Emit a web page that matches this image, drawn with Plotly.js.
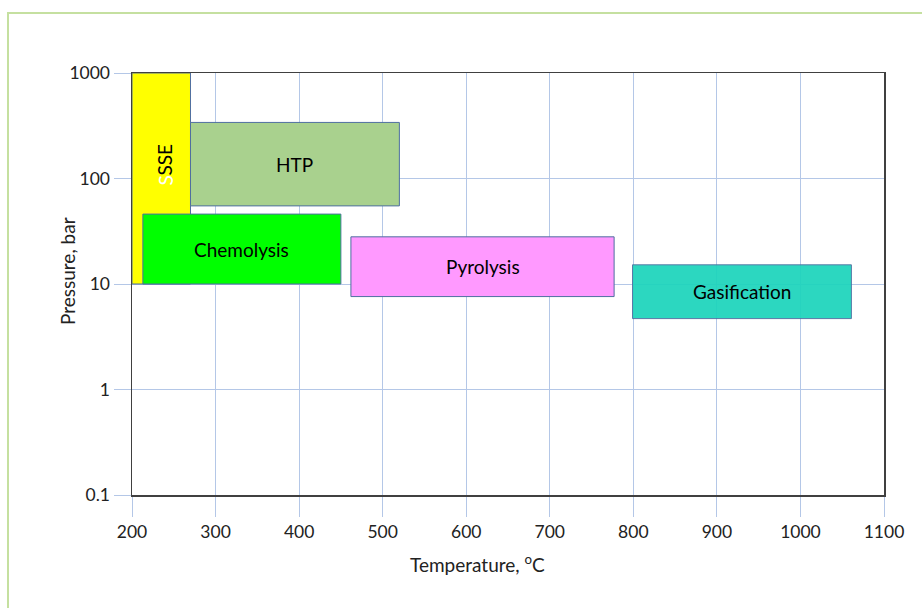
<!DOCTYPE html>
<html>
<head>
<meta charset="utf-8">
<script src="https://cdn.plot.ly/plotly-3.0.1.min.js"></script>
<style>
html,body{margin:0;padding:0;background:#fff;}
#chart{width:922px;height:608px;}
</style>
</head>
<body>
<div id="chart"></div>
<script>
// Process regions: temperature range (°C) and pressure range (bar)
const processes = ["SSE", "HTP", "Chemolysis", "Pyrolysis", "Gasification"];
const tempMin   = [200, 270, 213, 462, 799];
const tempMax   = [270, 520, 450, 777, 1061];
const presMin   = [10, 55, 10, 7.6, 4.7];
const presMax   = [1000, 340, 46, 28, 15.2];
const fillColors = ["#ffff00", "#a9d18e", "#00ff00", "#ff99ff", "#1dd4bc"];

// Axis ticks
const xTicks = [200, 300, 400, 500, 600, 700, 800, 900, 1000, 1100];
const yTicks = [0.1, 1, 10, 100, 1000];
const yTickText = ["0.1", "1", "10", "100", "1000"];

// Axis titles
const xTitle = "Temperature, <sup>o</sup>C";
const yTitle = "Pressure, bar";

// SSE label position (not centred in its box in the original)
const sseLabelT = 239;
const sseLabelP = 150;

const FONT = "Lato, 'Open Sans', sans-serif";
const outline = "#4f6fa0";

const traces = processes.map((name, i) => ({
  type: "scatter",
  mode: "lines",
  x: [tempMin[i], tempMax[i], tempMax[i], tempMin[i], tempMin[i]],
  y: [presMin[i], presMin[i], presMax[i], presMax[i], presMin[i]],
  fill: "toself",
  fillcolor: fillColors[i],
  line: {color: outline, width: 1},
  opacity: name === "Gasification" ? 0.93 : 1,
  name: name,
  hoverinfo: "skip",
  showlegend: false
}));

const annotations = processes.map((name, i) => {
  if (name === "SSE") {
    return {
      x: sseLabelT, y: Math.log10(sseLabelP), xref: "x", yref: "y",
      xanchor: "center", yanchor: "middle",
      text: "SSE", showarrow: false, textangle: -90,
      font: {family: FONT, size: 19, color: "#000"}
    };
  }
  return {
    x: (tempMin[i] + tempMax[i]) / 2,
    y: (Math.log10(presMin[i]) + Math.log10(presMax[i])) / 2,
    xref: "x", yref: "y", xanchor: "center", yanchor: "middle",
    text: name, showarrow: false,
    font: {family: FONT, size: 19, color: "#000"}
  };
});
// stray white glyph under SSE label in the original
annotations.push({
  x: sseLabelT, y: Math.log10(sseLabelP) - 0.2, xref: "x", yref: "y",
  xanchor: "center", yanchor: "middle",
  text: "S", showarrow: false, textangle: -90,
  font: {family: FONT, size: 19, color: "#ffffff"}
});
// axis titles placed as in the original
annotations.push({
  xref: "paper", yref: "paper",
  x: (477 - 132) / 752, y: (495 - 563) / 422,
  xanchor: "center", yanchor: "middle",
  text: xTitle, showarrow: false,
  font: {family: FONT, size: 19, color: "#222"}
});
annotations.push({
  xref: "paper", yref: "paper",
  x: (67 - 132) / 752, y: (495 - 271) / 422,
  xanchor: "center", yanchor: "middle",
  text: yTitle, showarrow: false, textangle: -90,
  font: {family: FONT, size: 19, color: "#222"}
});

const layout = {
  width: 922, height: 608,
  margin: {l: 132, r: 38, t: 73, b: 113},
  paper_bgcolor: "#ffffff",
  plot_bgcolor: "#ffffff",
  showlegend: false,
  font: {family: FONT, color: "#222"},
  xaxis: {
    range: [200, 1100],
    tickvals: xTicks,
    ticks: "outside", ticklen: 20, tickcolor: "#b4c7e7", tickwidth: 1,
    showgrid: true, gridcolor: "#b4c7e7", gridwidth: 1,
    showline: true, linecolor: "#404040", linewidth: 1.5, mirror: true,
    zeroline: false,
    tickfont: {family: FONT, size: 17.5, color: "#222"}
  },
  yaxis: {
    type: "log",
    range: [-1, 3],
    tickvals: yTicks, ticktext: yTickText,
    ticks: "outside", ticklen: 17, tickcolor: "#b4c7e7", tickwidth: 1,
    showgrid: true, gridcolor: "#b4c7e7", gridwidth: 1,
    showline: true, linecolor: "#404040", linewidth: 1.5, mirror: true,
    zeroline: false,
    tickfont: {family: FONT, size: 17.5, color: "#222"}
  },
  annotations: annotations,
  shapes: [{
    type: "rect", xref: "paper", yref: "paper",
    x0: -0.1649, x1: 1.06, y0: -0.28, y1: 1.1422,
    line: {color: "#c5e0a0", width: 2},
    fillcolor: "rgba(0,0,0,0)", layer: "below"
  }]
};

Plotly.newPlot("chart", traces, layout, {displayModeBar: false, staticPlot: true});
</script>
</body>
</html>
